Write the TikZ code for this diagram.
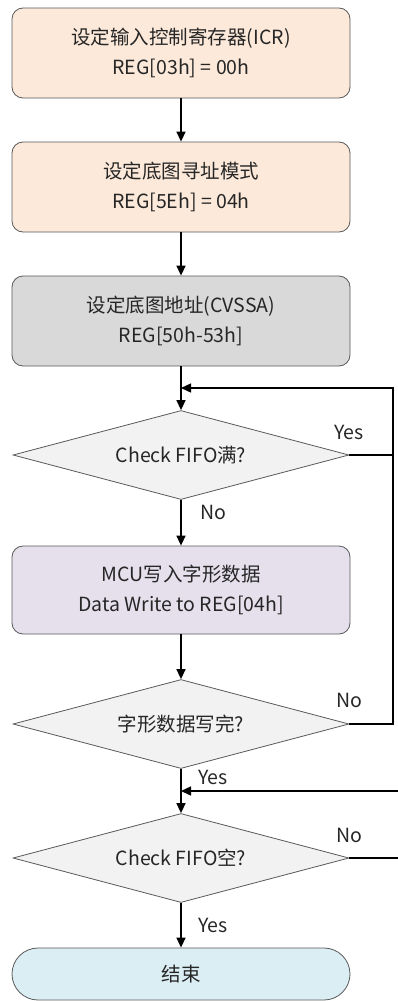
\documentclass[tikz,border=0pt]{standalone}
\usepackage{fontspec}
\setmainfont{Noto Sans CJK SC}
\usetikzlibrary{shapes.geometric,arrows.meta}
\definecolor{peach}{HTML}{FCE9DA}
\definecolor{grayfill}{HTML}{D9D9D9}
\definecolor{dfill}{HTML}{F2F2F2}
\definecolor{purp}{HTML}{E5E0EC}
\definecolor{endc}{HTML}{DBEEF4}
\definecolor{bord}{HTML}{595959}
\definecolor{txt}{HTML}{262626}
\begin{document}
\begin{tikzpicture}[x=1pt,y=1pt,
  every node/.style={font=\fontsize{19.5}{30}\selectfont, text=txt},
  procbox/.style={draw=bord, line width=0.8pt, rounded corners=11pt, minimum width=338pt, minimum height=90pt, align=center, inner sep=0pt},
  decbox/.style={draw=bord, line width=0.8pt, diamond, aspect=3.8, minimum width=336pt, minimum height=89pt, inner sep=1pt, fill=dfill},
  endbox/.style={draw=bord, line width=0.8pt, rounded corners=26pt, minimum width=338pt, minimum height=52pt, inner sep=0pt, fill=endc},
  conn/.style={line width=1.4pt, black},
  arr/.style={conn, -{Triangle[length=10pt,width=9pt]}},
  lbl/.style={font=\fontsize{19.5}{22}\selectfont, inner sep=0pt}
]
\useasboundingbox (0,0) rectangle (398,-1001);
\node[procbox, fill=peach] (b1) at (181,-53) {设定输入控制寄存器(ICR)\\REG[03h] = 00h};
\node[procbox, fill=peach] (b2) at (181,-187) {设定底图寻址模式\\REG[5Eh] = 04h};
\node[procbox, fill=grayfill] (b3) at (181,-321) {设定底图地址(CVSSA)\\REG[50h-53h]};
\coordinate (m1) at (181,-388);
\node[decbox] (d1) at (181,-455) {Check FIFO满?};
\node[procbox, fill=purp, minimum height=88pt] (b4) at (181,-590) {MCU写入字形数据\\Data Write to REG[04h]};
\node[decbox] (d2) at (181,-724) {字形数据写完?};
\coordinate (m2) at (181,-791);
\node[decbox] (d3) at (181,-858) {Check FIFO空?};
\node[endbox] (e) at (181,-974) {结束};
\coordinate (r1) at (393,-455);
\coordinate (r2) at (393,-724);
\coordinate (r0) at (393,-388);
\coordinate (x2) at (399,-791);
\coordinate (x3) at (399,-858);

\draw[arr] (b1) -- (b2);
\draw[arr] (b2) -- (b3);
\draw[arr] (b3) -- (d1);
\draw[arr] (d1) -- (b4);
\draw[arr] (b4) -- (d2);
\draw[arr] (d2) -- (d3);
\draw[arr] (d3) -- (e);
\draw[conn] (d1.east) -- (r1);
\draw[arr] (d2.east) -- (r2) -- (r0) -- (m1);
\draw[arr] (x2) -- (m2);
\draw[conn] (d3.east) -- (x3);

\node[lbl] (l1) at (349,-432) {Yes};
\node[lbl] (l2) at (213,-512) {No};
\node[lbl] (l3) at (349,-700) {No};
\node[lbl] (l4) at (213,-777) {Yes};
\node[lbl] (l5) at (349,-835) {No};
\node[lbl] (l6) at (213,-925) {Yes};
\end{tikzpicture}
\end{document}
